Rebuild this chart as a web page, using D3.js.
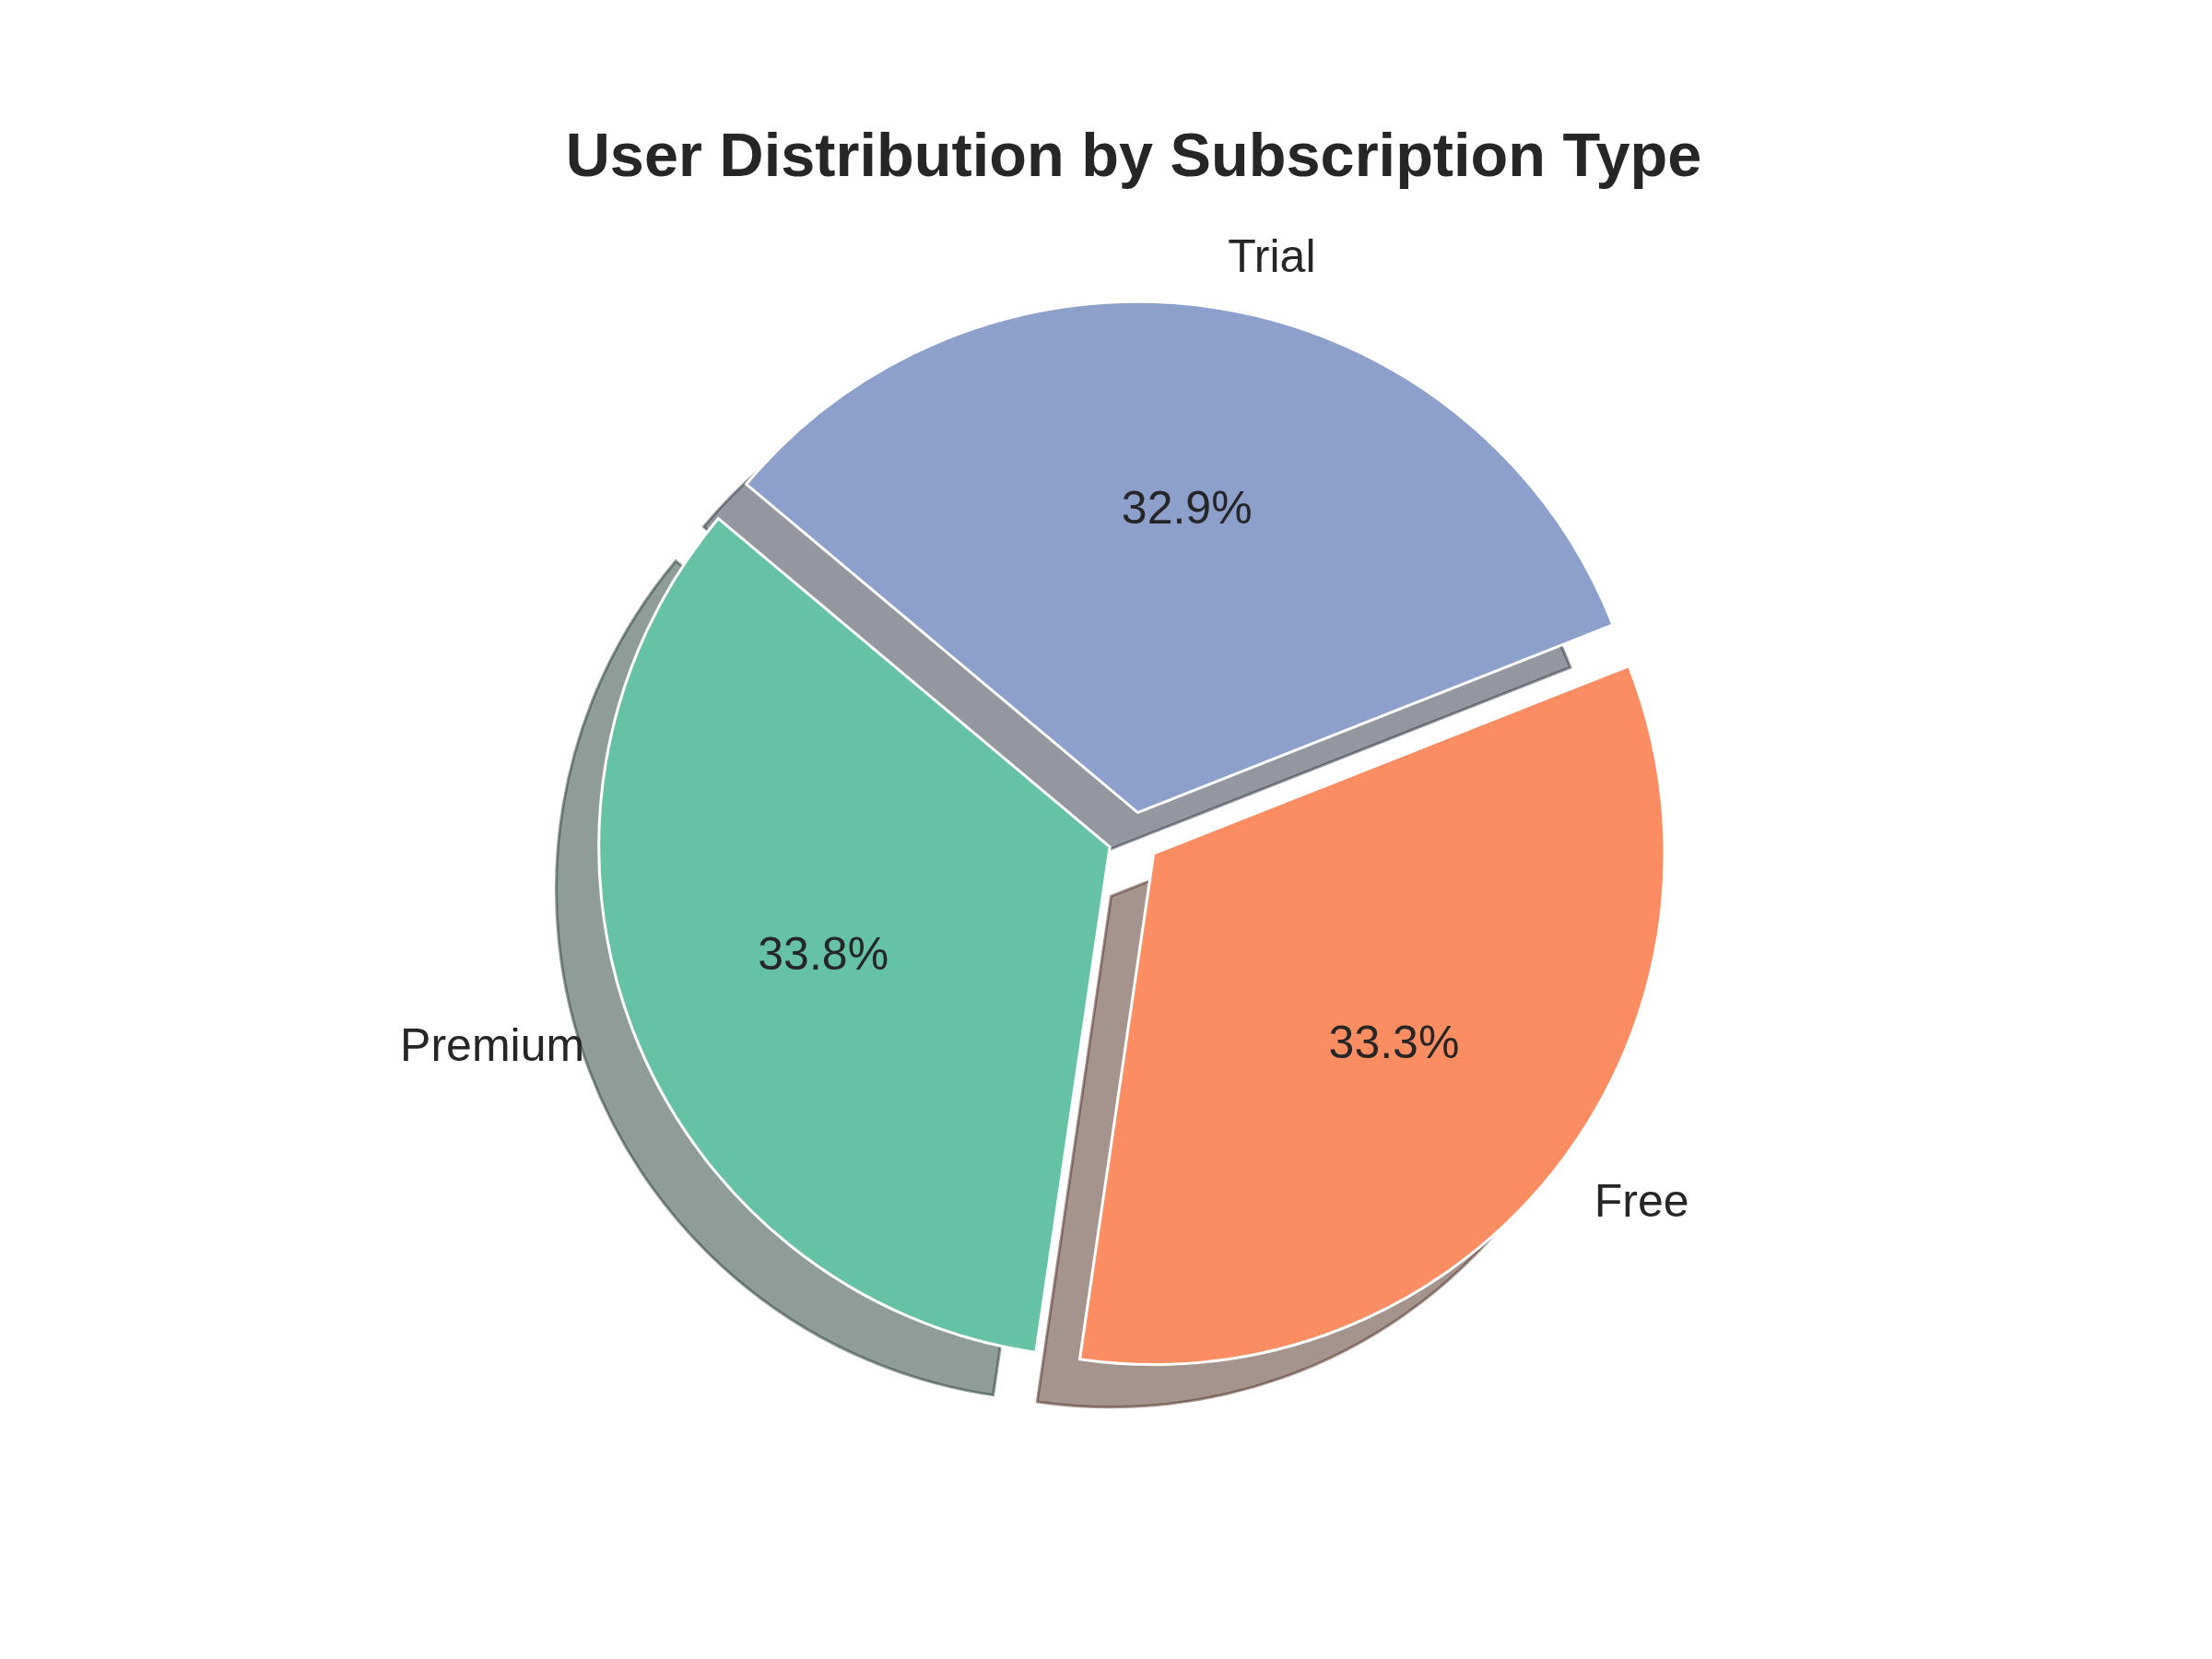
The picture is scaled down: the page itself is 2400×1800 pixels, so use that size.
<!DOCTYPE html>
<html><head><meta charset="utf-8">
<script src="https://cdn.jsdelivr.net/npm/d3@7"></script>
<style>body{margin:0;background:#fff}</style>
</head><body>
<svg id="chart" width="2400" height="1800"></svg>
<script>
const categories = ["Premium", "Free", "Trial"];
const values = [33.8, 33.3, 32.9];
const colors = ["#66c2a5", "#fc8d62", "#8da0cb"];
const explode = [0.05, 0.05, 0.05];
const chartTitle = "User Distribution by Subscription Type";

const W = 2400, H = 1800;
const svg = d3.select("#chart");
svg.append("rect").attr("width", W).attr("height", H).attr("fill", "#fff");

// axes box like matplotlib (8x6 in @300dpi), equal aspect, limits +-1.25
const axTop = 216, axBottom = 1602;
const U = (axBottom - axTop) / 2.5;
const cx = 1230, cy = (axTop + axBottom) / 2;
const xs = d3.scaleLinear().domain([-1.25, 1.25]).range([cx - 1.25 * U, cx + 1.25 * U]);
const ys = d3.scaleLinear().domain([-1.25, 1.25]).range([cy + 1.25 * U, cy - 1.25 * U]);

const start = Math.PI / 2 - 140 * Math.PI / 180;
const pie = d3.pie().sort(null).value(d => d).startAngle(start).endAngle(start - 2 * Math.PI);
const arcs = pie(values);
const arc = d3.arc().innerRadius(0).outerRadius(U);
const total = d3.sum(values);
const textColor = "#262626";
const font = "'Liberation Sans', Arial, sans-serif";

const info = arcs.map((a, i) => {
  const m = (a.startAngle + a.endAngle) / 2;
  const dx = Math.sin(m), dy = Math.cos(m); // data-space direction
  const ox = explode[i] * dx, oy = explode[i] * dy;
  return {a, i, dx, dy, ox, oy};
});

const shOff = 0.02 * 300 / 72; // shadow offset in data units
const gSh = svg.append("g");
info.forEach(d => {
  const c = d3.rgb(colors[d.i]);
  const sc = d3.rgb(c.r * 0.3, c.g * 0.3, c.b * 0.3).toString();
  gSh.append("path")
    .attr("d", arc(d.a))
    .attr("transform", `translate(${xs(d.ox - shOff)},${ys(d.oy - shOff)})`)
    .attr("fill", sc).attr("fill-opacity", 0.5)
    .attr("stroke", sc).attr("stroke-opacity", 0.5)
    .attr("stroke-width", 3).attr("stroke-linejoin", "miter");
});
const gW = svg.append("g");
info.forEach(d => {
  gW.append("path")
    .attr("d", arc(d.a))
    .attr("transform", `translate(${xs(d.ox)},${ys(d.oy)})`)
    .attr("fill", colors[d.i])
    .attr("stroke", "#fff").attr("stroke-width", 3).attr("stroke-linejoin", "miter");
});

const fs = 50;
info.forEach(d => {
  const lx = d.ox + 1.1 * d.dx, ly = d.oy + 1.1 * d.dy;
  svg.append("text")
    .attr("x", xs(lx)).attr("y", ys(ly)).attr("dy", "0.3em")
    .attr("text-anchor", lx - d.ox > 0 ? "start" : "end")
    .attr("font-family", font).attr("font-size", fs).attr("fill", textColor)
    .text(categories[d.i]);
  const px = d.ox + 0.6 * d.dx, py = d.oy + 0.6 * d.dy;
  svg.append("text")
    .attr("x", xs(px)).attr("y", ys(py)).attr("dy", "0.3em")
    .attr("text-anchor", "middle")
    .attr("font-family", font).attr("font-size", fs).attr("fill", textColor)
    .text(d3.format(".1f")(values[d.i] / total * 100) + "%");
});

svg.append("text")
  .attr("x", cx).attr("y", axTop - 25)
  .attr("text-anchor", "middle")
  .attr("font-family", font).attr("font-size", 66.7).attr("font-weight", "bold")
  .attr("fill", textColor)
  .text(chartTitle);
</script>
</body></html>
